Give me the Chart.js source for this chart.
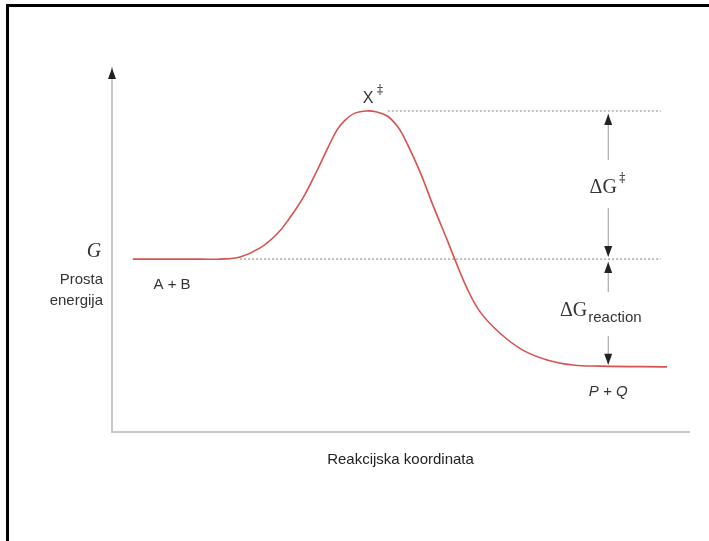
<!DOCTYPE html>
<html>
<head>
<meta charset="utf-8">
<script src="https://cdn.jsdelivr.net/npm/chart.js@4"></script>
<style>
  html, body { margin: 0; padding: 0; background: #fff; }
  #wrap { position: relative; width: 709px; height: 541px; }
  #frame { position: absolute; left: 6px; top: 4px; right: 0; bottom: 0;
           border-top: 3px solid #000; border-left: 3px solid #000; pointer-events: none; }
</style>
</head>
<body>
<div id="wrap">
  <canvas id="energyChart" width="709" height="541"></canvas>
  <div id="frame"></div>
</div>
<script>
// reaction coordinate (0..100) and free energy G (0..100)
const coordX = [3.6, 15.3, 18.7, 22.2, 25.6, 28.6, 30.8, 33.1, 35.5, 37.3, 39.0, 40.4, 42.1, 44.2, 45.9, 47.7, 48.7, 49.9, 51.1, 53.4, 55.6, 58.1, 59.4, 61.5, 63.8, 67.2, 71.2, 75.4, 79.9, 84.6, 96.2];
const energyG = [47.5, 47.5, 47.5, 48.1, 50.5, 54.4, 58.8, 64.3, 71.7, 77.7, 83.0, 85.7, 87.6, 88.2, 87.9, 86.8, 85.4, 83.0, 79.4, 71.4, 62.4, 52.7, 47.5, 39.6, 33.0, 27.2, 22.5, 19.8, 18.4, 18.1, 17.9];

// energy levels: transition state, reactants, products
const levels = [88.2, 47.5, 17.9];
const levelStartX = [47.8, 22.2];
const levelEndX = 95.1;
const arrowX = 86.0;

const curve = coordX.map((x, i) => ({ x: x, y: energyG[i] }));

function arrowHead(ctx, x, y, dir) {
  // dir = -1 points up, 1 points down; (x, y) is the tip
  ctx.beginPath();
  ctx.moveTo(x, y);
  ctx.lineTo(x - 4, y - dir * 11);
  ctx.lineTo(x + 4, y - dir * 11);
  ctx.closePath();
  ctx.fill();
}

const annotations = {
  id: 'annotations',
  afterDatasetsDraw(chart) {
    const ctx = chart.ctx;
    const xs = chart.scales.x, ys = chart.scales.y;
    const area = chart.chartArea;
    ctx.save();
    ctx.fillStyle = '#222';

    // arrow on the G axis
    arrowHead(ctx, area.left, area.top, -1);

    // double arrows for ΔG‡ and ΔG reaction
    const ax = xs.getPixelForValue(arrowX);
    const yTs = ys.getPixelForValue(levels[0]);
    const yR = ys.getPixelForValue(levels[1]);
    const yP = ys.getPixelForValue(levels[2]);
    ctx.strokeStyle = '#999';
    ctx.lineWidth = 1;
    const segs = [[yTs + 3, 160], [208, yR - 3], [yR + 3, 292], [336, yP - 3]];
    segs.forEach(s => {
      ctx.beginPath();
      ctx.moveTo(ax, s[0]);
      ctx.lineTo(ax, s[1]);
      ctx.stroke();
    });
    arrowHead(ctx, ax, yTs + 3, -1);
    arrowHead(ctx, ax, yR - 2, 1);
    arrowHead(ctx, ax, yR + 3, -1);
    arrowHead(ctx, ax, yP - 2, 1);

    ctx.textBaseline = 'middle';
    ctx.fillStyle = '#333';

    // X‡ above the peak
    const px = xs.getPixelForValue(44.2);
    ctx.font = '16px "Liberation Sans", Arial, sans-serif';
    ctx.textAlign = 'center';
    ctx.fillText('X', px + 1, yTs - 12);
    ctx.font = '12px "DejaVu Serif", serif';
    ctx.fillText('‡', px + 13, yTs - 20);

    // ΔG‡
    ctx.font = '20px "Liberation Serif", "DejaVu Serif", serif';
    ctx.textAlign = 'center';
    ctx.fillText('ΔG', ax - 5, 188);
    ctx.font = '12px "DejaVu Serif", serif';
    ctx.fillText('‡', ax + 14, 179);

    // ΔG reaction
    ctx.font = '20px "Liberation Serif", "DejaVu Serif", serif';
    ctx.textAlign = 'right';
    ctx.fillText('ΔG', ax - 21, 311);
    ctx.textAlign = 'left';
    ctx.font = '15px "Liberation Sans", Arial, sans-serif';
    ctx.fillText('reaction', ax - 20, 318);

    // species labels
    ctx.textAlign = 'center';
    ctx.font = '15px "Liberation Sans", Arial, sans-serif';
    ctx.fillText('A + B', xs.getPixelForValue(10.4), 285);
    ctx.font = 'italic 15px "Liberation Sans", Arial, sans-serif';
    ctx.fillText('P + Q', ax, 392);

    // y axis label
    ctx.font = 'italic 20px "Liberation Serif", "DejaVu Serif", serif';
    ctx.textAlign = 'center';
    ctx.fillText('G', 94, 252);
    ctx.font = '15px "Liberation Sans", Arial, sans-serif';
    ctx.textAlign = 'right';
    ctx.fillText('Prosta', 103, 280);
    ctx.fillText('energija', 103, 301);
    ctx.restore();
  }
};

new Chart(document.getElementById('energyChart'), {
  type: 'line',
  data: {
    datasets: [
      {
        data: curve,
        borderColor: '#d9514e',
        borderWidth: 1.6,
        pointRadius: 0,
        tension: 0.4,
        fill: false
      },
      {
        data: [{ x: levelStartX[0], y: levels[0] }, { x: levelEndX, y: levels[0] }],
        borderColor: '#aaaaaa',
        borderWidth: 1.5,
        borderDash: [2, 2],
        pointRadius: 0
      },
      {
        data: [{ x: levelStartX[1], y: levels[1] }, { x: levelEndX, y: levels[1] }],
        borderColor: '#aaaaaa',
        borderWidth: 1.5,
        borderDash: [2, 2],
        pointRadius: 0
      }
    ]
  },
  options: {
    responsive: false,
    animation: false,
    layout: { padding: { left: 112, top: 68, right: 20, bottom: 72 } },
    plugins: { legend: { display: false }, tooltip: { enabled: false } },
    scales: {
      x: {
        type: 'linear',
        min: 0,
        max: 100,
        grid: { display: false, drawTicks: false },
        ticks: { display: false },
        border: { color: '#c8c8c8', width: 2 },
        title: {
          display: true,
          text: 'Reakcijska koordinata',
          color: '#222',
          font: { family: '"Liberation Sans", Arial, sans-serif', size: 15 },
          padding: { top: 19, bottom: 0 }
        }
      },
      y: {
        min: 0,
        max: 100,
        grid: { display: false, drawTicks: false },
        ticks: { display: false },
        border: { color: '#c8c8c8', width: 2 }
      }
    }
  },
  plugins: [annotations]
});
</script>
</body>
</html>
